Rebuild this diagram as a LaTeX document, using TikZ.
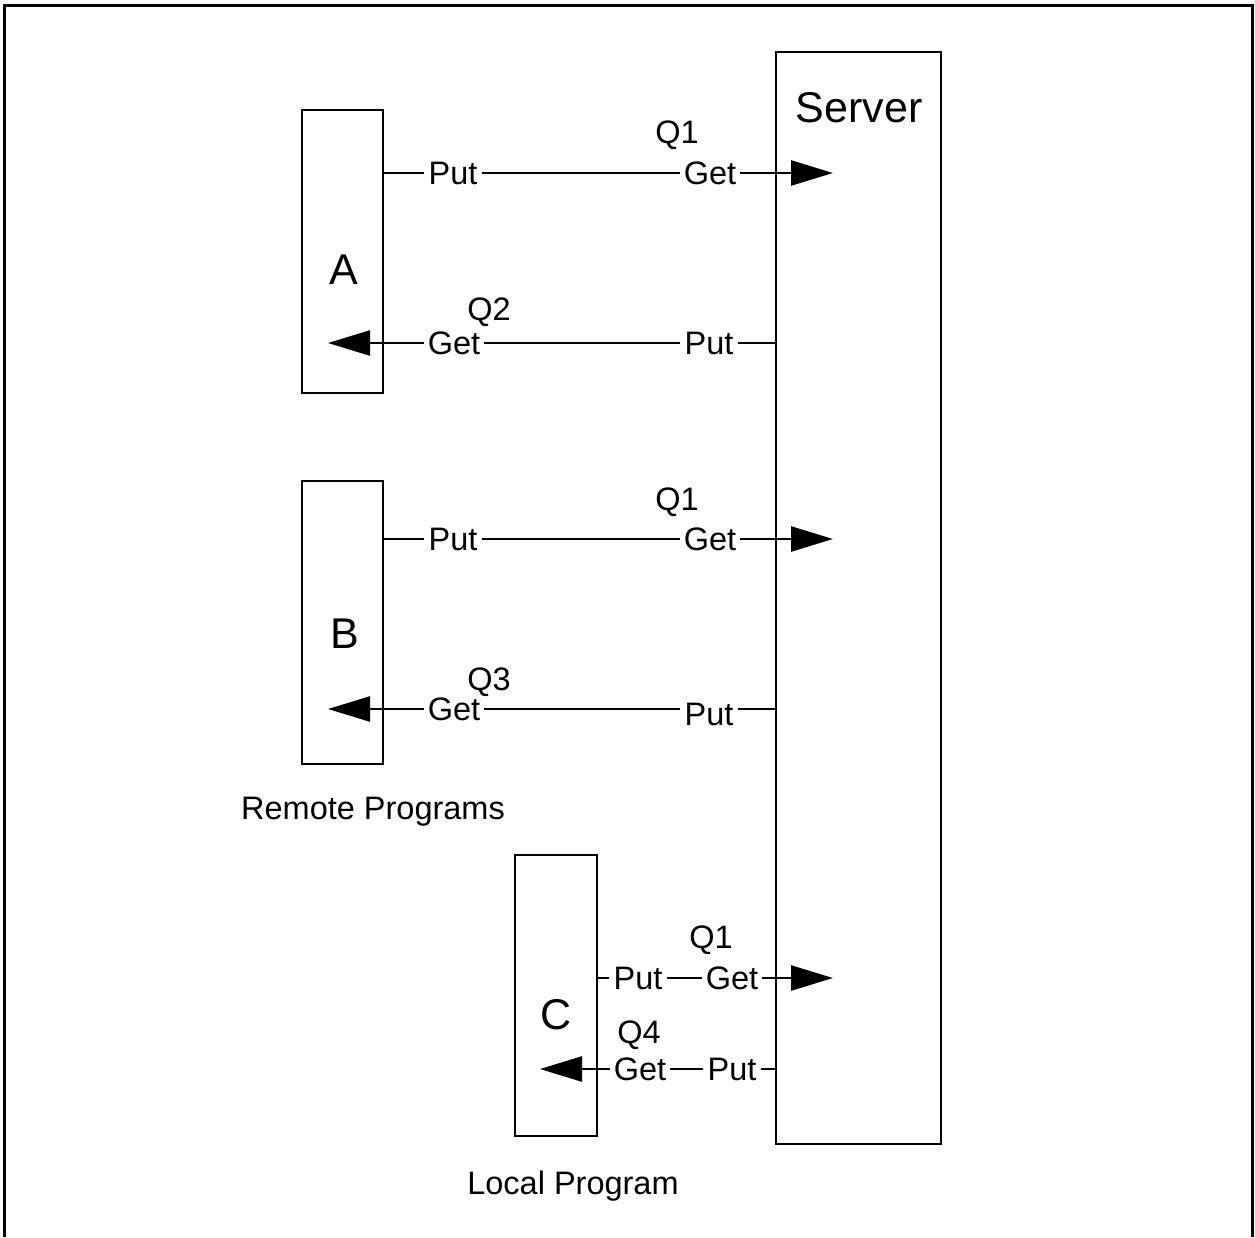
\documentclass[tikz,border=0pt]{standalone}
\usepackage{fontspec}
\setmainfont{Liberation Sans}
\usetikzlibrary{arrows.meta}
\begin{document}
\begin{tikzpicture}[x=1pt,y=-1pt,
  ln/.style={line width=2.6pt},
  boxst/.style={draw,line width=2.8pt,inner sep=0pt},
  lbl/.style={font=\fontsize{32.5}{39}\selectfont,inner xsep=4pt,inner ysep=0pt,text height=23.3pt,text depth=0pt},
  big/.style={font=\fontsize{43}{50}\selectfont,inner sep=0pt},
  arr/.style={ln,-{Triangle[length=42pt,width=25pt]}}]
\useasboundingbox (0,0) rectangle (1255,1237);
% frame
\draw[line width=3pt] (4,1237) -- (4,5) -- (1252,5) -- (1252,1237);
% boxes
\node[boxst,minimum width=81pt,minimum height=283pt] (A) at (342.5,251.5) {};
\node[boxst,minimum width=81pt,minimum height=283pt] (B) at (342.5,622.5) {};
\node[boxst,minimum width=82pt,minimum height=281pt] (C) at (556,995.5) {};
\node[boxst,minimum width=165pt,minimum height=1092pt] (S) at (858.5,598) {};
\node[big] (tA) at (344,270) {A};
\node[big] (tB) at (345,634) {B};
\node[big] (tC) at (556,1015) {C};
\node[big] (tS) at (859,108) {Server};
\node[lbl] (rp) at (373,808) {Remote Programs};
\node[lbl] (lp) at (573,1183) {Local Program};
% row 1
\node[lbl] (p1) at (453,173) {Put};
\node[lbl] (g1) at (710,173) {Get};
\node[lbl] (q1) at (677,132) {Q1};
\coordinate (t1) at (833,173);
\draw[ln] (A.east |- p1) -- (p1);
\draw[ln] (p1) -- (g1);
\draw[arr] (g1) -- (t1);
% row 2
\node[lbl] (g2) at (454,343) {Get};
\node[lbl] (p2) at (709,343) {Put};
\node[lbl] (q2) at (489,309) {Q2};
\coordinate (t2) at (328,343);
\draw[arr] (g2) -- (t2);
\draw[ln] (g2) -- (p2);
\draw[ln] (p2) -- (S.west |- p2);
% row 3
\node[lbl] (p3) at (453,539) {Put};
\node[lbl] (g3) at (710,539) {Get};
\node[lbl] (q3) at (677,499) {Q1};
\coordinate (t3) at (833,539);
\draw[ln] (B.east |- p3) -- (p3);
\draw[ln] (p3) -- (g3);
\draw[arr] (g3) -- (t3);
% row 4
\node[lbl] (g4) at (454,709) {Get};
\node[lbl] (p4) at (709,714) {Put};
\node[lbl] (q4) at (489,679) {Q3};
\coordinate (t4) at (328,709);
\draw[arr] (g4) -- (t4);
\draw[ln] (g4) -- (g4 -| p4.west);
\draw[ln] (g4 -| p4.east) -- (g4 -| S.west);
% row 5
\node[lbl] (p5) at (638,978) {Put};
\node[lbl] (g5) at (732,978) {Get};
\node[lbl] (q5) at (711,937) {Q1};
\coordinate (t5) at (833,978);
\draw[ln] (C.east |- p5) -- (p5);
\draw[ln] (p5) -- (g5);
\draw[arr] (g5) -- (t5);
% row 6
\node[lbl] (g6) at (640,1069) {Get};
\node[lbl] (p6) at (732,1069) {Put};
\node[lbl] (q6) at (639,1032) {Q4};
\coordinate (t6) at (540,1069);
\draw[arr] (g6) -- (t6);
\draw[ln] (g6) -- (p6);
\draw[ln] (p6) -- (S.west |- p6);
\end{tikzpicture}
\end{document}
